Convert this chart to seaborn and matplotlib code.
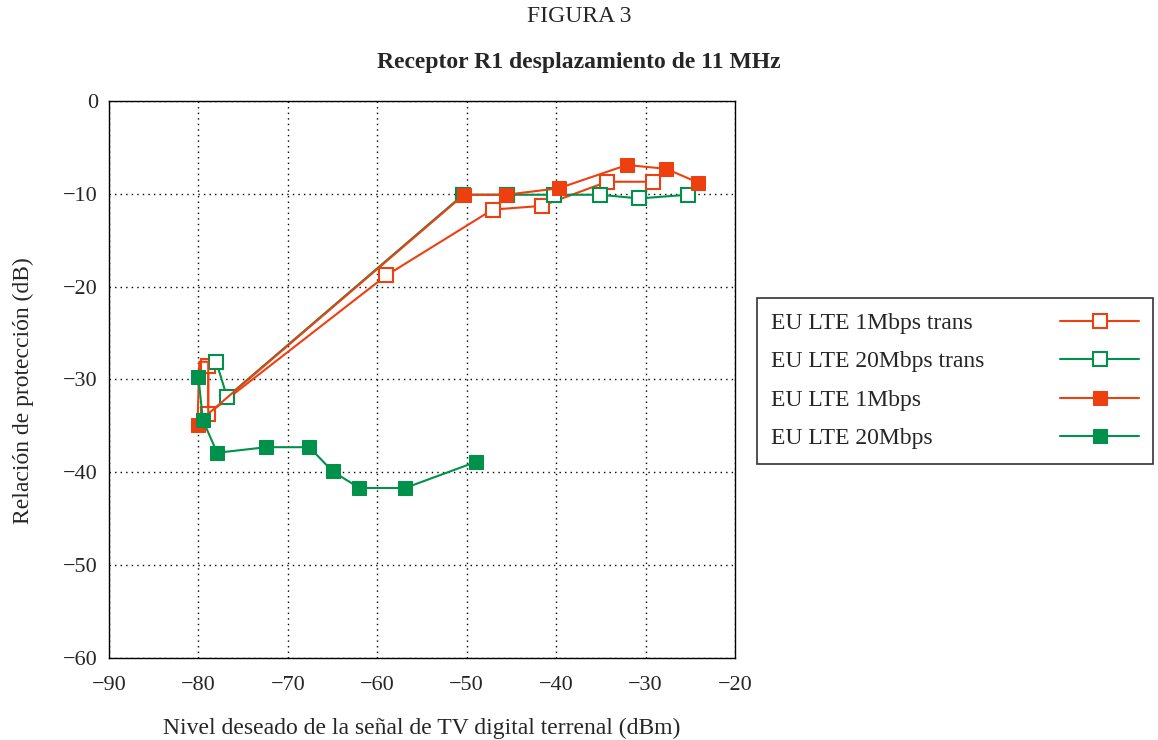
import seaborn as sns
import matplotlib.pyplot as plt

# datos
x_1m_trans = [-78.9, -78.9, -59.0, -47.1, -41.6, -34.3, -29.2]
y_1m_trans = [-28.6, -33.7, -18.8, -11.7, -11.3, -8.7, -8.7]

x_20m_trans = [-78.0, -76.8, -50.4, -45.5, -40.2, -35.1, -30.7, -25.3]
y_20m_trans = [-28.1, -31.9, -10.1, -10.1, -10.1, -10.1, -10.5, -10.1]

x_1m = [-80.1, -79.9, -78.9, -78.9, -50.3, -45.6, -39.7, -32.1, -27.7, -24.1]
y_1m = [-34.9, -28.1, -28.1, -33.7, -10.1, -10.1, -9.4, -6.9, -7.3, -8.8]
marcas_1m = [0, 4, 5, 6, 7, 8, 9]

x_20m = [-80.0, -79.5, -77.9, -72.4, -67.6, -65.0, -62.0, -56.9, -49.0]
y_20m = [-29.7, -34.4, -37.9, -37.3, -37.3, -39.9, -41.7, -41.7, -38.9]

etiquetas = ["EU LTE 1Mbps trans", "EU LTE 20Mbps trans", "EU LTE 1Mbps", "EU LTE 20Mbps"]

naranja = "#EC4010"
verde = "#00924A"

sns.set_style("white")
plt.rcParams["font.family"] = ["Liberation Serif", "DejaVu Serif"]
plt.rcParams["axes.unicode_minus"] = True

fig = plt.figure(figsize=(11.58, 7.40), dpi=100)
ax = fig.add_axes([0.0941, 0.111, 0.5406, 0.7525])

ms = 10.5
sns.lineplot(x=x_1m_trans, y=y_1m_trans, sort=False, estimator=None, ax=ax, color=naranja,
             lw=1.5, marker="s", ms=ms, mfc="white", mec=naranja, mew=1.5, label=etiquetas[0])
sns.lineplot(x=x_20m_trans, y=y_20m_trans, sort=False, estimator=None, ax=ax, color=verde,
             lw=1.5, marker="s", ms=ms, mfc="white", mec=verde, mew=1.5, label=etiquetas[1])
sns.lineplot(x=x_1m, y=y_1m, sort=False, estimator=None, ax=ax, color=naranja, lw=1.5,
             marker="s", ms=ms, mfc=naranja, mec=naranja, markevery=marcas_1m,
             label=etiquetas[2])
sns.lineplot(x=x_20m, y=y_20m, sort=False, estimator=None, ax=ax, color=verde, lw=1.5,
             marker="s", ms=ms, mfc=verde, mec=verde, label=etiquetas[3])

ax.set_xlim(-90, -20)
ax.set_ylim(-60, 0)
ax.set_xticks(range(-90, -19, 10))
ax.set_yticks(range(-60, 1, 10))
ax.grid(True, color="black", linestyle=(0, (1, 3)), linewidth=1)
for s in ax.spines.values():
    s.set_color("black")
    s.set_linewidth(1)
ax.tick_params(axis="both", direction="out", length=5, width=1, color="black", labelsize=16)
ax.tick_params(axis="x", pad=8)
ax.tick_params(axis="y", pad=3)
ax.set_xlabel("Nivel deseado de la señal de TV digital terrenal (dBm)", fontsize=17)
ax.set_ylabel("Relación de protección (dB)", fontsize=17)
ax.xaxis.set_label_coords(0.5, -0.108)
ax.yaxis.set_label_coords(-0.119, 0.48)

handles, labels = ax.get_legend_handles_labels()
ax.get_legend().remove()
leg = fig.legend(handles, labels, loc="upper left", bbox_to_anchor=(0.6537, 0.597),
                 markerfirst=False, fontsize=17, frameon=True, fancybox=False,
                 edgecolor="black", handlelength=3.35, labelspacing=0.72, borderpad=0.6,
                 borderaxespad=0)
leg.get_frame().set_linewidth(1.2)
# texto a la izquierda, simbolo a la derecha
for col in leg._legend_handle_box.get_children():
    col.align = "left"
    for fila in col.get_children():
        fila.mode = "expand"
        fila.width = 368

fig.text(0.5, 0.978, "FIGURA 3", ha="center", va="center", fontsize=17)
fig.text(0.5, 0.916, "Receptor R1 desplazamiento de 11 MHz", ha="center", va="center",
         fontsize=17, fontweight="bold")

fig.savefig("out.png", dpi=100)
